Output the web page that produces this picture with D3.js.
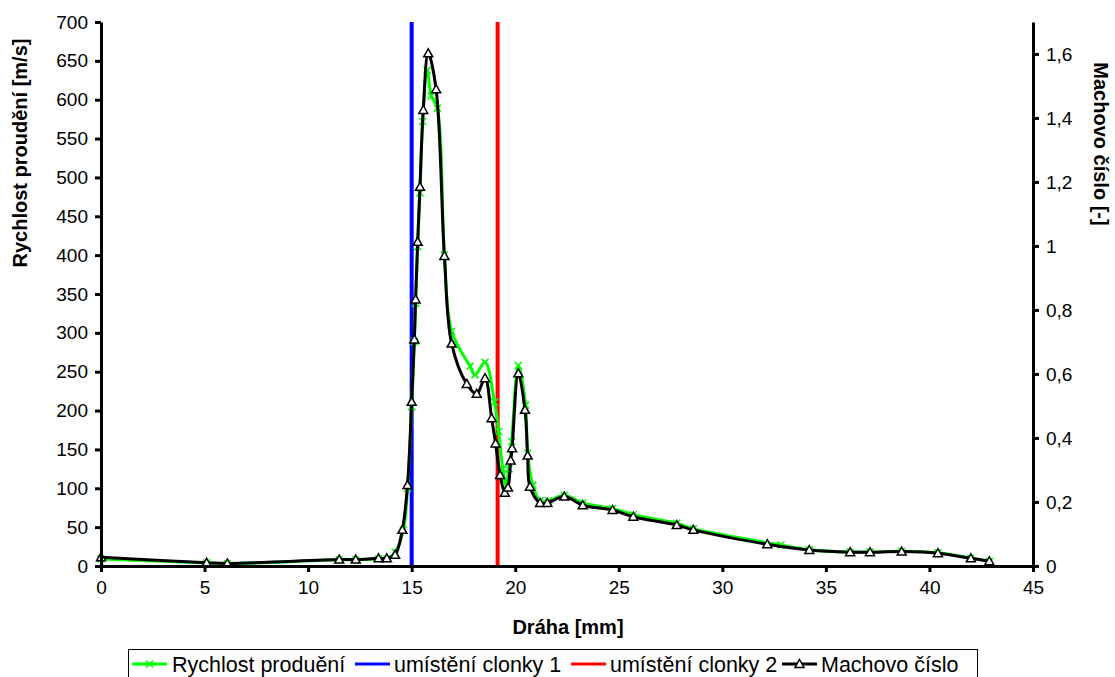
<!DOCTYPE html>
<html><head><meta charset="utf-8">
<script src="https://cdn.jsdelivr.net/npm/d3@7"></script>
<style>body{margin:0;background:#fff}svg{display:block}text{font-family:"Liberation Sans",Arial,sans-serif}</style>
</head><body>
<svg id="c" width="1115" height="677"></svg>
<script>
const velX = [0, 5.1, 6.1, 11.5, 12.3, 13.4, 13.8, 14.2, 14.6, 14.8, 15.0, 15.13, 15.19, 15.29, 15.4, 15.53, 15.75, 15.95, 16.24, 16.58, 16.93, 17.82, 18.06, 18.54, 19.0, 19.2, 19.4, 19.55, 19.7, 19.83, 20.15, 20.5, 20.6, 20.85, 21.2, 21.6, 22.37, 23.26, 24.7, 25.7, 27.8, 28.6, 32.83, 34.2, 36.17, 37.13, 38.66, 40.41, 42.0, 42.89];
const velY = [9, 4, 3, 8, 8, 9, 9, 18, 46, 100, 205, 289, 338, 411, 480, 572, 638, 605, 589, 400, 302, 257, 246, 262, 211, 173, 125, 105, 125, 160, 258, 207, 145, 104, 84, 84, 91, 81, 74, 66, 55, 48, 27, 21, 18, 18, 19, 17, 10, 6];
const machX = [0, 5.1, 6.1, 11.5, 12.3, 13.4, 13.8, 14.2, 14.55, 14.8, 15.0, 15.13, 15.19, 15.29, 15.4, 15.56, 15.8, 16.18, 16.58, 16.93, 17.66, 18.14, 18.54, 18.86, 19.05, 19.27, 19.5, 19.65, 19.78, 19.85, 20.15, 20.47, 20.6, 20.71, 21.2, 21.55, 22.37, 23.26, 24.7, 25.7, 27.8, 28.6, 32.17, 34.2, 36.17, 37.13, 38.66, 40.41, 42.0, 42.89];
const machY = [0.027, 0.010, 0.008, 0.020, 0.020, 0.024, 0.024, 0.035, 0.113, 0.253, 0.513, 0.708, 0.833, 1.013, 1.185, 1.425, 1.602, 1.49, 0.969, 0.695, 0.569, 0.538, 0.587, 0.462, 0.383, 0.284, 0.229, 0.245, 0.33, 0.368, 0.602, 0.488, 0.345, 0.248, 0.197, 0.197, 0.217, 0.19, 0.175, 0.154, 0.128, 0.113, 0.068, 0.05, 0.043, 0.043, 0.045, 0.04, 0.024, 0.015];
const clonka1X = [15, 15];
const clonka2X = [19.15, 19.15];
const clonkaY = [0, 700];
const xTicks = [0, 5, 10, 15, 20, 25, 30, 35, 40, 45];
const yLeftTicks = d3.range(0, 701, 50);
const yRightTicks = [0, 0.2, 0.4, 0.6, 0.8, 1, 1.2, 1.4, 1.6];
const seriesNames = ["Rychlost produění", "umístění clonky 1", "umístění clonky 2", "Machovo číslo"];
const xTitle = "Dráha [mm]", yLeftTitle = "Rychlost proudění [m/s]", yRightTitle = "Machovo číslo [-]";

const svg = d3.select("#c");
const L = 101, R = 1033, T = 22, B = 566;
const x = d3.scaleLinear([0, 45], [L, R]);
const yL = d3.scaleLinear([0, 700], [B, T]);
const yR = d3.scaleLinear([0, 1.7], [B, T]);
const commaFmt = d => String(+d.toFixed(1)).replace(".", ",");

// vertical lines
[[clonka1X, "#0000ff"], [clonka2X, "#ff0000"]].forEach(([xs, col]) => {
  svg.append("path")
    .attr("d", d3.line().x((d, i) => x(xs[i])).y(d => yL(d))(clonkaY))
    .attr("stroke", col).attr("stroke-width", 4).attr("fill", "none");
});

const curve = d3.curveCatmullRom.alpha(0.5);
// velocity
const vel = velX.map((v, i) => [v, velY[i]]);
svg.append("path").attr("d", d3.line().curve(curve).x(d => x(d[0])).y(d => yL(d[1]))(vel))
  .attr("stroke", "#00ff00").attr("stroke-width", 3).attr("fill", "none");
const xm = 3.5;
svg.append("g").selectAll("path").data(vel).join("path")
  .attr("d", d => { const cx = x(d[0]), cy = yL(d[1]); return `M${cx-xm},${cy-xm}L${cx+xm},${cy+xm}M${cx-xm},${cy+xm}L${cx+xm},${cy-xm}`; })
  .attr("stroke", "#00ff00").attr("stroke-width", 1.6);

// mach
const mach = machX.map((v, i) => [v, machY[i]]);
svg.append("path").attr("d", d3.line().curve(curve).x(d => x(d[0])).y(d => yR(d[1]))(mach))
  .attr("stroke", "#000").attr("stroke-width", 3).attr("fill", "none");
const tri = (cx, cy) => `M${cx},${cy-4.5}L${cx+4.5},${cy+3.5}L${cx-4.5},${cy+3.5}Z`;
svg.append("g").selectAll("path").data(mach).join("path")
  .attr("d", d => tri(x(d[0]), yR(d[1])))
  .attr("stroke", "#000").attr("stroke-width", 1.5).attr("fill", "#fff");

// axes
function styleAxis(g) {
  g.select(".domain").attr("stroke-width", 3);
  g.selectAll(".tick line").attr("stroke-width", 3);
  g.selectAll(".tick text").attr("font-size", 19).attr("font-family", '"Liberation Sans",Arial,sans-serif').attr("fill", "#000");
}
svg.append("g").attr("transform", `translate(0,${B})`)
  .call(d3.axisBottom(x).tickValues(xTicks).tickSize(6).tickSizeOuter(0).tickPadding(9))
  .call(styleAxis);
svg.append("g").attr("transform", `translate(${L},0)`)
  .call(d3.axisLeft(yL).tickValues(yLeftTicks).tickSize(6).tickSizeOuter(0).tickPadding(7))
  .call(styleAxis);
svg.append("g").attr("transform", `translate(${R},0)`)
  .call(d3.axisRight(yR).tickValues(yRightTicks).tickFormat(commaFmt).tickSize(6).tickSizeOuter(0).tickPadding(7))
  .call(styleAxis);

// titles
svg.append("text").attr("x", 568).attr("y", 634).attr("text-anchor", "middle")
  .attr("font-size", 20).attr("font-weight", "bold").text(xTitle);
svg.append("text").attr("transform", "translate(27,153) rotate(-90)").attr("text-anchor", "middle")
  .attr("font-size", 20).attr("font-weight", "bold").text(yLeftTitle);
svg.append("text").attr("transform", "translate(1094,144) rotate(90)").attr("text-anchor", "middle")
  .attr("font-size", 20).attr("font-weight", "bold").text(yRightTitle);

// legend
const lg = svg.append("g");
lg.append("rect").attr("x", 128.5).attr("y", 649.5).attr("width", 849).attr("height", 40)
  .attr("fill", "#fff").attr("stroke", "#000").attr("stroke-width", 1);
const ly = 664;
const items = [
  {x0: 132, col: "#00ff00", mk: "x", tx: 172},
  {x0: 355, col: "#0000ff", mk: null, tx: 394},
  {x0: 571, col: "#ff0000", mk: null, tx: 610},
  {x0: 782, col: "#000", mk: "tri", tx: 821}
];
items.forEach((it, i) => {
  lg.append("line").attr("x1", it.x0).attr("x2", it.x0 + 35).attr("y1", ly).attr("y2", ly)
    .attr("stroke", it.col).attr("stroke-width", 3);
  const cx = it.x0 + 17.5;
  if (it.mk === "x") lg.append("path").attr("d", `M${cx-xm},${ly-xm}L${cx+xm},${ly+xm}M${cx-xm},${ly+xm}L${cx+xm},${ly-xm}`).attr("stroke", it.col).attr("stroke-width", 1.6);
  if (it.mk === "tri") lg.append("path").attr("d", tri(cx, ly)).attr("stroke", "#000").attr("stroke-width", 1.5).attr("fill", "#fff");
  lg.append("text").attr("x", it.tx).attr("y", ly + 7.5).attr("font-size", 21.5).text(seriesNames[i]);
});
</script>
</body></html>
